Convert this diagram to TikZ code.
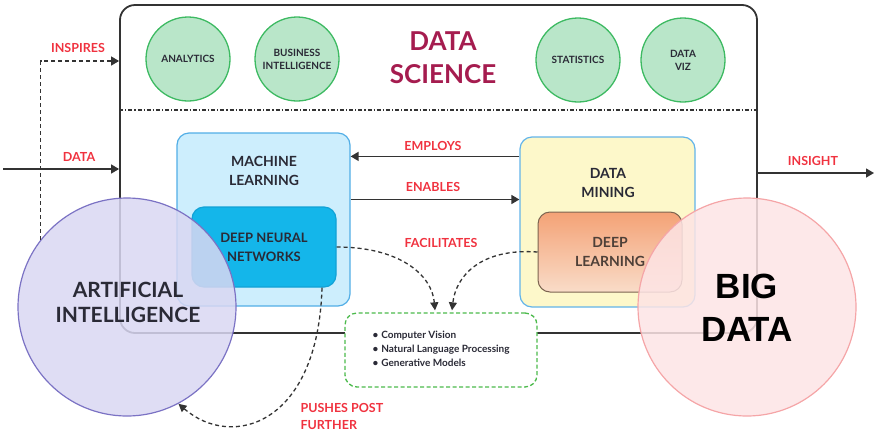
\documentclass[tikz,border=0pt]{standalone}
\usepackage{fontspec}
\setmainfont{Lato}
\newfontfamily\arialf{Liberation Sans}
\usetikzlibrary{arrows.meta,calc}
\definecolor{frame}{HTML}{333333}
\definecolor{gfill}{HTML}{B9E6C9}
\definecolor{gline}{HTML}{3DBA62}
\definecolor{ttl}{HTML}{A51C4F}
\definecolor{redl}{HTML}{F0323F}
\definecolor{txt}{HTML}{2A2A36}
\definecolor{mlfill}{HTML}{CDEEFD}
\definecolor{mlline}{HTML}{52AEE6}
\definecolor{dnnfill}{HTML}{14B6EA}
\definecolor{dnnline}{HTML}{12A2D6}
\definecolor{dmfill}{HTML}{FDF8CA}
\definecolor{dmline}{HTML}{62B4EA}
\definecolor{dltop}{HTML}{F4A276}
\definecolor{dlbot}{HTML}{F9DCC8}
\definecolor{dlline}{HTML}{7C6450}
\definecolor{dltxt}{HTML}{4E4038}
\definecolor{bulline}{HTML}{4CBA4C}
\definecolor{aifill}{HTML}{D9D7F2}
\definecolor{ailine}{HTML}{7B72C4}
\definecolor{bdfill}{HTML}{FDE4E5}
\definecolor{bdline}{HTML}{F5A5A7}
\tikzset{
  box/.style={rounded corners=12pt, line width=1.2pt},
  topc/.style={circle, minimum size=84pt, inner sep=0pt, fill=gfill, draw=gline, line width=1.3pt,
    align=center, text=txt, font=\fontsize{10}{13}\selectfont\bfseries},
  boxtxt/.style={align=center, text=txt, font=\fontsize{14}{19}\selectfont\bfseries},
  lbl/.style={text=redl, font=\fontsize{12.5}{17}\selectfont\bfseries},
  arr/.style={-{Triangle[length=8pt,width=9pt]}, line width=1.4pt, draw=frame},
  dsh/.style={dash pattern=on 4pt off 3pt, line width=1.3pt, draw=frame},
  dsharr/.style={dsh, -{Triangle[length=8pt,width=8pt]}},
  bigc/.style={circle, minimum size=218pt, inner sep=0pt, line width=1.2pt, fill opacity=0.85},
}
\begin{document}
\begin{tikzpicture}[x=1pt,y=-1pt]
\useasboundingbox (0,0) rectangle (876,440);
% main frame
\node[draw=frame, line width=1.8pt, rounded corners=15pt, minimum width=637pt, minimum height=328pt] (main) at (438.5,169) {};
\coordinate (sep) at (0,110);
\draw[frame, line width=1.3pt, dash pattern=on 4pt off 2pt on 1.2pt off 2pt] (main.west |- sep) -- (main.east |- sep);
% top circles
\node[topc] (an) at (188,59) {ANALYTICS};
\node[topc] (bi) at (297,59) {BUSINESS\\INTELLIGENCE};
\node[topc] (st) at (578,60) {STATISTICS};
\node[topc] (dv) at (683,60) {DATA\\VIZ};
\node[text=ttl, align=center, font=\fontsize{26}{33}\selectfont\bfseries] (ds) at (443,58) {DATA\\SCIENCE};
% machine learning
\node[box, draw=mlline, fill=mlfill, minimum width=173pt, minimum height=173pt] (ml) at (263.5,219.5) {};
\node[boxtxt] (mlt) at (264,170.5) {MACHINE\\LEARNING};
\node[box, draw=dnnline, fill=dnnfill, minimum width=144pt, minimum height=80pt, boxtxt, font=\fontsize{13}{19}\selectfont\bfseries] (dnn) at (264,247) {DEEP NEURAL\\NETWORKS};
% data mining
\node[box, draw=dmline, fill=dmfill, minimum width=175pt, minimum height=170pt] (dm) at (607.5,222) {};
\node[boxtxt] (dmt) at (608,183) {DATA\\MINING};
\node[box, draw=dlline, line width=1pt, top color=dltop, bottom color=dlbot, minimum width=144pt, minimum height=80pt,
  align=center, text=dltxt, font=\fontsize{14}{19}\selectfont\bfseries] (dl) at (610,252) {DEEP\\LEARNING};
% employs / enables
\draw[arr] (dm.north west) ++(0,20) coordinate (e1) -- (e1 -| ml.east);
\node[lbl] (empl) at (433,146) {EMPLOYS};
\draw[arr] (ml.east) ++(0,-20) coordinate (e2) -- (e2 -| dm.west);
\node[lbl] (enl) at (433,187) {ENABLES};
\node[lbl] (facl) at (441,243) {FACILITATES};
% bullet box
\node[draw=bulline, fill=white, line width=1.3pt, dash pattern=on 4pt off 2.5pt, rounded corners=12pt,
  minimum width=192pt, minimum height=74pt] (bul) at (441,350) {};
\node[anchor=west, align=left, text=txt, font=\fontsize{10}{14}\selectfont\bfseries] (bult) at (369,349)
  {\textbullet\hspace{3pt}Computer Vision\\ \textbullet\hspace{3pt}Natural Language Processing\\ \textbullet\hspace{3pt}Generative Models};
\draw[dsharr] (dnn.east) .. controls (400,247) and (432,275) .. ($(bul.north)+(-6,-2)$);
\draw[dsharr] (dl.west) .. controls (482,248) and (456,275) .. ($(bul.north)+(11,-2)$);
% data in / insight out
\coordinate (din) at (3,169);
\draw[arr] (din) -- (din -| main.west);
\node[lbl] (datal) at (79,157) {DATA};
\coordinate (iout) at (874,173);
\draw[arr] (main.east |- iout) -- (iout);
\node[lbl] (insl) at (813,161) {INSIGHT};
% big circles
\node[bigc, fill=aifill, draw=ailine] (ai) at (127,307) {};
\node[bigc, fill=bdfill, draw=bdline] (bd) at (747,307) {};
\node[align=center, text=txt, font=\fontsize{21}{25}\selectfont\bfseries] (ait) at (128,302) {ARTIFICIAL\\INTELLIGENCE};
\node[align=center, text=black, font=\arialf\fontsize{35}{43}\selectfont\bfseries] (bdt) at (747,308) {BIG\\DATA};
% inspires
\coordinate (ins) at (0,61);
\draw[dsh, -{Triangle[length=8pt,width=9pt]}] (ai.142) |- (ins -| main.west);
\node[lbl] (insp) at (78,48) {INSPIRES};
% pushes post further
\draw[dsharr] ($(dnn.south)+(58,0)$) .. controls (318,425) and (232,450) .. (ai.-62);
\node[lbl, anchor=west, align=left] (ppf) at (297,416) {PUSHES POST\\FURTHER};
\end{tikzpicture}
\end{document}
